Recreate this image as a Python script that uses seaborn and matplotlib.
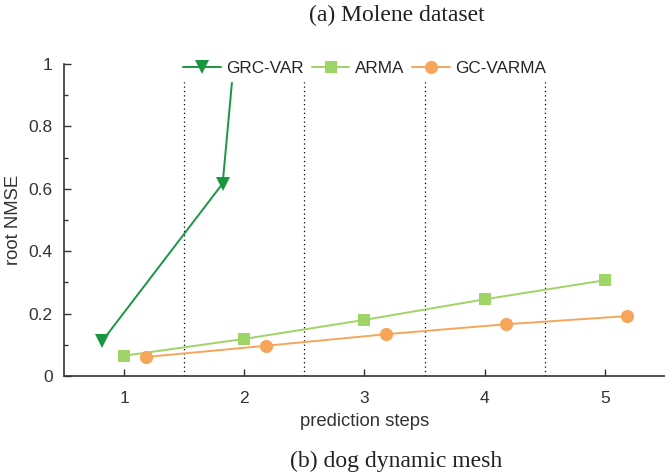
import numpy as np
import pandas as pd
import matplotlib
matplotlib.use('Agg')
import matplotlib.pyplot as plt
from matplotlib.ticker import MultipleLocator, FormatStrFormatter
import seaborn as sns

steps = [1, 2, 3, 4, 5]
grc_var_steps = [1, 2, 3]
grc_var = [0.113, 0.617, 4.8]
arma = [0.065, 0.119, 0.180, 0.246, 0.307]
gc_varma = [0.061, 0.097, 0.134, 0.166, 0.192]

sns.set_theme(style='ticks')
plt.rcParams['font.family'] = ['Liberation Sans', 'DejaVu Sans']

fig = plt.figure(figsize=(6.65, 4.76), dpi=100)
ax = fig.add_axes([0.0962, 0.21, 0.9038, 0.6555])

df = pd.concat([
    pd.DataFrame({'step': np.array(grc_var_steps) - 0.18, 'val': grc_var, 'model': 'GRC-VAR'}),
    pd.DataFrame({'step': steps, 'val': arma, 'model': 'ARMA'}),
    pd.DataFrame({'step': np.array(steps) + 0.18, 'val': gc_varma, 'model': 'GC-VARMA'}),
])

colors = {'GRC-VAR': '#1a9641', 'ARMA': '#9fd466', 'GC-VARMA': '#f5a65b'}
markers = {'GRC-VAR': 'v', 'ARMA': 's', 'GC-VARMA': 'o'}
sizes = {'GRC-VAR': 10, 'ARMA': 8, 'GC-VARMA': 9.5}

for name in ['GRC-VAR', 'ARMA', 'GC-VARMA']:
    d = df[df['model'] == name]
    sns.lineplot(data=d, x='step', y='val', ax=ax, color=colors[name], marker=markers[name],
                 markersize=sizes[name], markeredgewidth=0, linewidth=1.4, label=name,
                 clip_on=True)

for xv in [1.5, 2.5, 3.5, 4.5]:
    ax.axvline(xv, color='black', linestyle=(0, (1, 2.5)), linewidth=0.9, zorder=0)

ax.set_xlim(0.5, 5.5)
ax.set_ylim(0, 1)
ax.set_xticks(steps)
ax.yaxis.set_major_locator(MultipleLocator(0.2))
ax.yaxis.set_minor_locator(MultipleLocator(0.1))
ax.yaxis.set_major_formatter(FormatStrFormatter('%g'))
ax.tick_params(direction='in', labelsize=12.5, colors='#333333', length=5, width=1)
ax.tick_params(axis='y', which='minor', direction='in', length=3, width=1, colors='#333333')
ax.tick_params(axis='x', pad=11)
ax.tick_params(axis='y', pad=8)
sns.despine(ax=ax)
for s in ['left', 'bottom']:
    ax.spines[s].set_color('#333333')
    ax.spines[s].set_linewidth(1.2)

ax.set_xlabel('prediction steps', fontsize=13.3, color='#333333', labelpad=5)
ax.set_ylabel('root NMSE', fontsize=13.3, color='#333333', labelpad=5)

leg = ax.legend(loc='center', bbox_to_anchor=(0.5, 0.985), ncol=3, frameon=True,
                fontsize=12.3, handlelength=2.2, columnspacing=0.5, handletextpad=0.3,
                borderpad=0.3)
leg.get_frame().set_edgecolor('white')
leg.get_frame().set_facecolor('white')
leg.get_frame().set_alpha(1)

fig.text(0.597, 0.968, '(a) Molene dataset', ha='center', va='center',
         fontsize=17, family='Liberation Serif', color='#222222')
fig.text(0.595, 0.03, '(b) dog dynamic mesh', ha='center', va='center',
         fontsize=17, family='Liberation Serif', color='#222222')

plt.savefig('out.png', dpi=100)
